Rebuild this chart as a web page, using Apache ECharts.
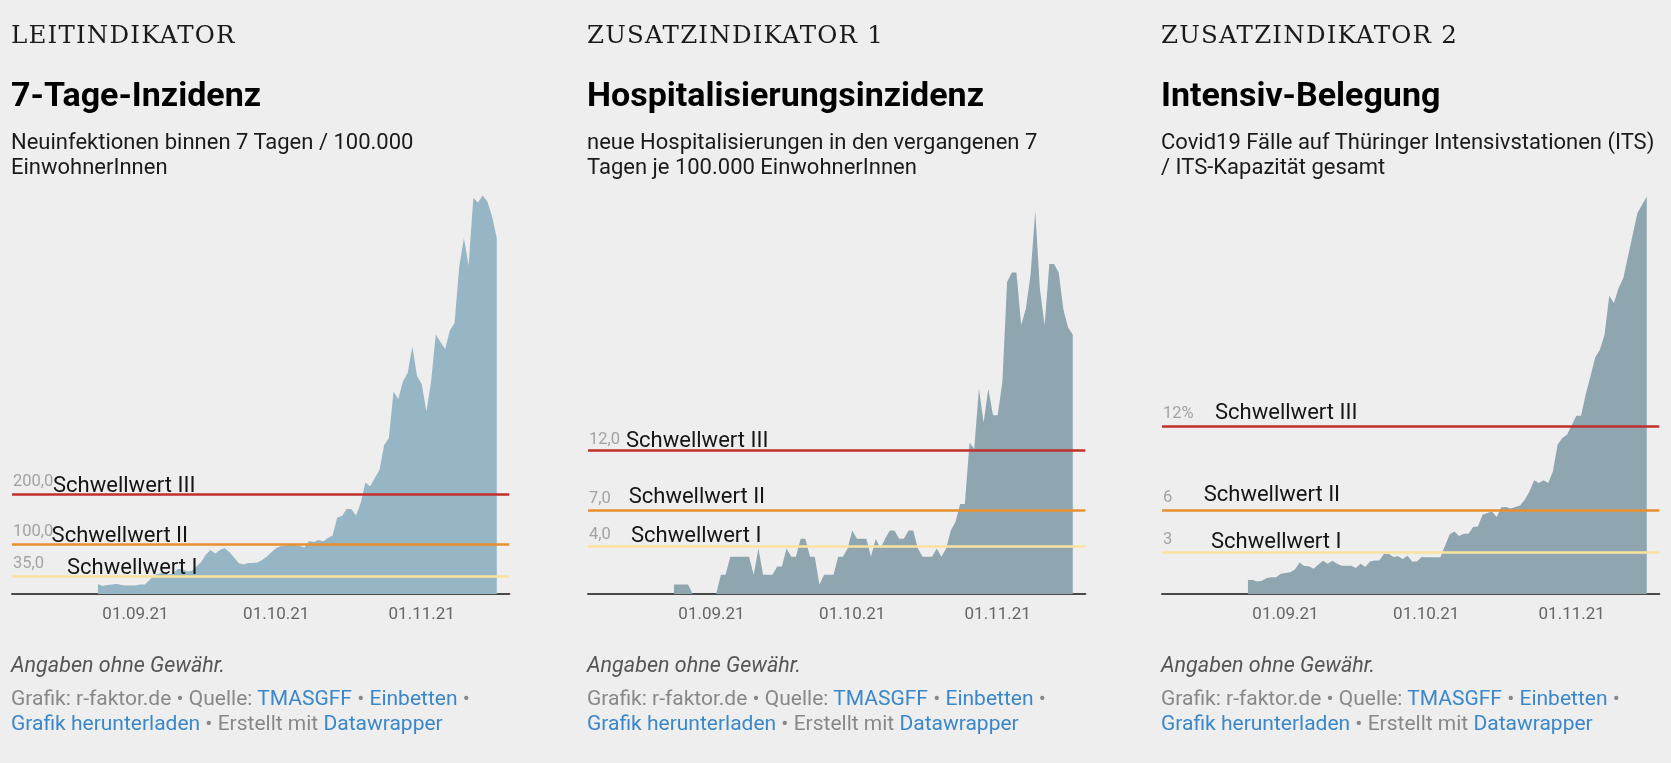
<!DOCTYPE html>
<html lang="de">
<head>
<meta charset="utf-8">
<title>Thüringer Warnampel</title>
<script src="https://cdn.jsdelivr.net/npm/echarts@6/dist/echarts.min.js"></script>
<style>
  html, body { margin: 0; padding: 0; background: #eeeeee; }
  body { width: 1671px; height: 763px; position: relative; overflow: hidden; font-family: Roboto, "Noto Sans", sans-serif; }
  #chart { position: absolute; left: 0; top: 0; width: 1671px; height: 763px; }
  .col { position: absolute; top: 0; width: 497px; height: 763px; }
  .col div { position: absolute; left: 0; white-space: nowrap; }
  .kicker { top: 22.6px; font-family: "DejaVu Serif", serif; font-size: 24.5px; line-height: 24.5px; letter-spacing: 1.2px; color: #1a1a1a; }
  .title { top: 77.4px; font-size: 34px; line-height: 34px; font-weight: 700; color: #000; }
  .sub { top: 128.6px; font-size: 22px; line-height: 25.7px; color: #1a1a1a; }
  .note { top: 653.6px; font-size: 21.5px; line-height: 21.5px; font-style: italic; color: #555; }
  .foot { top: 686.3px; font-size: 21px; line-height: 25px; color: #888; }
  .foot a { color: #3a87c9; text-decoration: none; }
</style>
</head>
<body>
<div id="chart"></div>

<div class="col" style="left:11px">
  <div class="kicker">LEITINDIKATOR</div>
  <div class="title">7-Tage-Inzidenz</div>
  <div class="sub">Neuinfektionen binnen 7 Tagen / 100.000<br>EinwohnerInnen</div>
  <div class="note">Angaben ohne Gewähr.</div>
  <div class="foot">Grafik: r-faktor.de • Quelle: <a href="#">TMASGFF</a> • <a href="#">Einbetten</a> •<br><a href="#">Grafik herunterladen</a> • Erstellt mit <a href="#">Datawrapper</a></div>
</div>
<div class="col" style="left:587px">
  <div class="kicker">ZUSATZINDIKATOR 1</div>
  <div class="title">Hospitalisierungsinzidenz</div>
  <div class="sub">neue Hospitalisierungen in den vergangenen 7<br>Tagen je 100.000 EinwohnerInnen</div>
  <div class="note">Angaben ohne Gewähr.</div>
  <div class="foot">Grafik: r-faktor.de • Quelle: <a href="#">TMASGFF</a> • <a href="#">Einbetten</a> •<br><a href="#">Grafik herunterladen</a> • Erstellt mit <a href="#">Datawrapper</a></div>
</div>
<div class="col" style="left:1161px">
  <div class="kicker">ZUSATZINDIKATOR 2</div>
  <div class="title">Intensiv-Belegung</div>
  <div class="sub">Covid19 Fälle auf Thüringer Intensivstationen (ITS)<br>/ ITS-Kapazität gesamt</div>
  <div class="note">Angaben ohne Gewähr.</div>
  <div class="foot">Grafik: r-faktor.de • Quelle: <a href="#">TMASGFF</a> • <a href="#">Einbetten</a> •<br><a href="#">Grafik herunterladen</a> • Erstellt mit <a href="#">Datawrapper</a></div>
</div>

<script>
// daily values 24.08.21 - 17.11.21
var startDate = '2021-08-24';

var inzidenz = [
  20, 16, 18, 19, 20, 18, 17, 17,
  17, 19, 19, 28, 38, 41, 42, 39, 40, 50,
  50, 45, 46, 55, 64, 79, 88, 81, 88, 92,
  84, 73, 62, 59, 62, 62, 63, 68, 75, 84,
  92, 96, 97, 100, 98, 96, 93, 106, 104, 108,
  105, 112, 117, 153, 156, 170, 170, 157, 182, 223,
  215, 232, 248, 298, 312, 405, 390, 425, 442, 495, 436,
  420, 365, 425, 519, 504, 490, 527, 542, 655, 712,
  657, 792, 783, 797, 785, 755, 712
];

var hospitalisierung = [
  0.8, 0.8, 0.8, 0.8, 0, 0, 0, 0,
  0, 0, 1.6, 1.6, 3.1, 3.1, 3.1, 3.1, 3.1, 1.6,
  3.8, 1.6, 1.6, 1.6, 2.3, 2.3, 3.8, 3.1, 3.1, 4.6,
  4.6, 3.1, 3.1, 0.8, 1.6, 1.6, 1.6, 3.1, 3.1, 3.8,
  5.3, 4.6, 4.6, 4.6, 3.1, 4.6, 3.8, 4.6, 5.3, 5.3,
  4.6, 4.6, 5.3, 5.3, 3.8, 3.1, 3.1, 3.1, 3.8, 3.1,
  3.8, 5.3, 6.0, 7.5, 7.5, 12.6, 12.1, 17.1, 14.3, 17.1, 14.9,
  14.9, 17.7, 26.0, 26.8, 26.8, 22.4, 23.8, 26.6, 31.9, 25.4,
  22.4, 27.5, 27.5, 26.8, 23.7, 22.2, 21.6
];

var intensiv = [
  1.0, 1.0, 0.9, 0.95, 1.15, 1.2, 1.2, 1.45,
  1.5, 1.55, 1.75, 2.25, 2.0, 1.98, 1.8, 2.1, 2.38, 2.16,
  2.38, 2.16, 2.02, 2.02, 2.02, 1.85, 2.16, 1.93, 2.33, 2.4,
  2.4, 2.88, 2.88, 2.64, 2.69, 2.5, 2.74, 2.33, 2.33, 2.64,
  2.62, 2.62, 2.62, 2.62, 3.45, 4.26, 4.47, 4.15, 4.31, 4.31,
  4.78, 4.83, 5.66, 5.78, 5.9, 5.5, 6.19, 6.21, 6.1, 6.21,
  6.33, 6.74, 7.33, 8.12, 7.93, 8.12, 7.93, 8.76, 10.67, 11.14, 11.38,
  12.05, 12.74, 12.74, 14.28, 15.55, 16.9, 17.45, 18.52, 21.3, 20.78,
  21.85, 22.57, 24.12, 25.66, 27.2, 27.8, 28.4
];

var tickDates = ['2021-09-01', '2021-10-01', '2021-11-01'];

var thresholdNames = ['Schwellwert I', 'Schwellwert II', 'Schwellwert III'];
var thresholds = [[35, 100, 200], [4, 7, 12], [3, 6, 12]];
var thresholdTexts = [['35,0', '100,0', '200,0'], ['4,0', '7,0', '12,0'], ['3', '6', '12%']];

// layout / style
var DAY = 86400000;
var sep1 = Date.UTC(2021, 8, 1);
var areaColors = ['#97b6c5', '#8fa6b1', '#8fa6b1'];
var thresholdColors = ['#fae3a0', '#e8902f', '#c0302b'];
var gridLefts = [12, 588, 1162];
var yMax = [800, 400 / 12, 400 / 14];
// per chart, per threshold: width of number part, distance above line, lift of number
var labelLayout = [
  [{ w: 54, dy: -3, lift: 7.2 }, { w: 38.6, dy: -3.4, lift: 6.6 }, { w: 40, dy: -3.4, lift: 6.6 }],
  [{ w: 42, dy: -1.2, lift: 4.3 }, { w: 39.7, dy: 1.8, lift: 0.9 }, { w: 37, dy: -2.2, lift: 4.3 }],
  [{ w: 48, dy: -1.4, lift: 4.6 }, { w: 40.7, dy: 3.3, lift: 0.2 }, { w: 52, dy: 1.3, lift: 2.2 }]
];

function parseDay(s) {
  var p = s.split('-');
  return Date.UTC(+p[0], +p[1] - 1, +p[2]);
}

function pad(n) { return n < 10 ? '0' + n : '' + n; }

function fmtDate(v) {
  var d = new Date(v);
  return pad(d.getUTCDate()) + '.' + pad(d.getUTCMonth() + 1) + '.' + String(d.getUTCFullYear()).slice(2);
}

var t0 = parseDay(startDate);
var allSeries = [inzidenz, hospitalisierung, intensiv];

function toPoints(values) {
  var out = [];
  for (var i = 0; i < values.length; i++) {
    out.push([t0 + i * DAY, values[i]]);
  }
  return out;
}

function thresholdLine(c, k) {
  var lay = labelLayout[c][k];
  return {
    yAxis: thresholds[c][k],
    lineStyle: { color: thresholdColors[k], width: 2.7, type: 'solid' },
    label: {
      show: true,
      position: 'insideStartTop',
      distance: [1, lay.dy],
      formatter: '{n|' + thresholdTexts[c][k] + '}{s|' + thresholdNames[k] + '}',
      rich: {
        n: { width: lay.w, fontSize: 16.5, color: '#a3a3a3', fontFamily: 'Roboto', verticalAlign: 'bottom', padding: [0, 0, lay.lift, 0] },
        s: { fontSize: 22, color: '#151515', fontFamily: 'Roboto', verticalAlign: 'bottom' }
      }
    }
  };
}

var grids = [], xAxes = [], yAxes = [], series = [];
for (var c = 0; c < 3; c++) {
  grids.push({ left: gridLefts[c], width: 497.3, top: 194, height: 400 });
  xAxes.push({
    type: 'value',
    gridIndex: c,
    min: sep1 - 26.32 * DAY,
    max: sep1 + 79.67 * DAY,
    axisLine: { show: true, lineStyle: { color: '#4a4a4a', width: 2 } },
    axisTick: { show: false },
    splitLine: { show: false },
    axisLabel: {
      customValues: tickDates.map(parseDay),
      formatter: fmtDate,
      color: '#666',
      fontSize: 17,
      fontFamily: 'Roboto',
      margin: 12
    }
  });
  yAxes.push({ type: 'value', gridIndex: c, min: 0, max: yMax[c], show: false });
  series.push({
    type: 'line',
    xAxisIndex: c,
    yAxisIndex: c,
    data: toPoints(allSeries[c]),
    symbol: 'none',
    lineStyle: { width: 0 },
    areaStyle: { color: areaColors[c], opacity: 1 },
    markLine: {
      silent: true,
      symbol: ['none', 'none'],
      data: [thresholdLine(c, 0), thresholdLine(c, 1), thresholdLine(c, 2)]
    }
  });
}

var chart = echarts.init(document.getElementById('chart'));
chart.setOption({
  animation: false,
  backgroundColor: 'transparent',
  textStyle: { fontFamily: 'Roboto' },
  grid: grids,
  xAxis: xAxes,
  yAxis: yAxes,
  series: series
});
</script>
</body>
</html>
